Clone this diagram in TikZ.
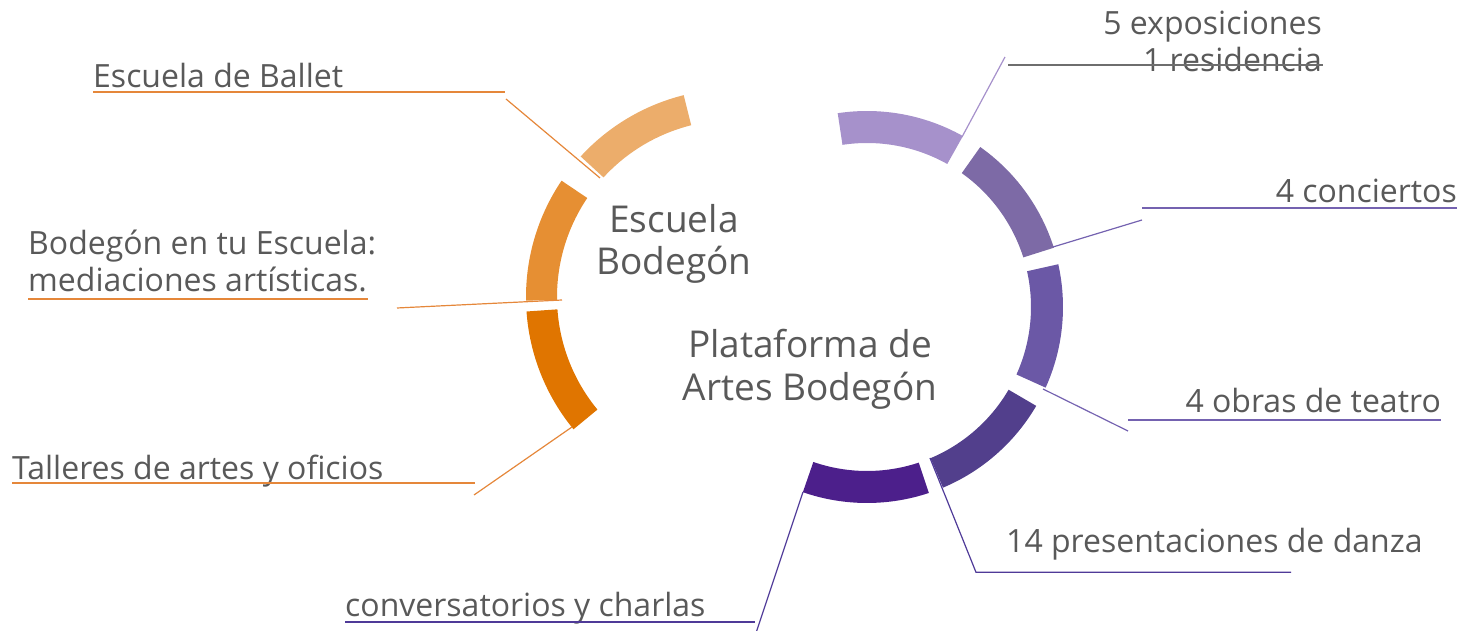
\documentclass[tikz,border=0pt]{standalone}
\usepackage{fontspec}
\setmainfont{Open Sans}
\definecolor{txt}{HTML}{595959}
\definecolor{orA}{HTML}{ECAD6B}
\definecolor{orB}{HTML}{E68F33}
\definecolor{orC}{HTML}{E07500}
\definecolor{orL}{HTML}{E5873A}
\definecolor{puA}{HTML}{A691CB}
\definecolor{puB}{HTML}{7D6AA6}
\definecolor{puC}{HTML}{6B58A6}
\definecolor{puD}{HTML}{523F8C}
\definecolor{puE}{HTML}{4C1F8B}
\definecolor{puL}{HTML}{7462B0}
\definecolor{puM}{HTML}{4F3A98}
\definecolor{grL}{HTML}{6E6E6E}
\newcommand{\annsector}[7]{%
  \fill[#7] (#1,#2) ++(#3:#5) arc[start angle=#3,end angle=#4,radius=#5]
    -- ++(#4:-#5+#6) arc[start angle=#4,end angle=#3,radius=#6] -- cycle;}
\tikzset{
  lbl/.style={font=\fontsize{32}{38}\selectfont, text=txt, inner sep=0pt},
  ctr/.style={font=\fontsize{37}{44}\selectfont, text=txt, inner sep=0pt, anchor=base},
  uline/.style={line width=2pt},
  leader/.style={line width=1.2pt},
}
\begin{document}
\begin{tikzpicture}[x=1pt,y=1pt]
\useasboundingbox (0,0) rectangle (1462,631);
% left ring (Escuela Bodegon), centre (734,334)
\annsector{734}{334}{104}{137.5}{208}{177}{orA}
\annsector{734}{334}{146}{181}{208}{177}{orB}
\annsector{734}{334}{184}{219.5}{208}{177}{orC}
% right ring (Plataforma), centre (867,324)
\annsector{867}{324}{60.7}{98.6}{196}{164}{puA}
\annsector{867}{324}{17.6}{54.7}{196}{164}{puB}
\annsector{867}{324}{-24.3}{12.6}{196}{164}{puC}
\annsector{867}{324}{-67.2}{-30.3}{196}{164}{puD}
\annsector{867}{324}{-109.1}{-71.6}{196}{164}{puE}

% centre titles
\node[ctr] (t1a) at (674,398) {Escuela};
\node[ctr] (t1b) at (674,356) {Bodegón};
\node[ctr] (t2a) at (810,273) {Plataforma de};
\node[ctr] (t2b) at (810,230) {Artes Bodegón};

% left labels
\node[lbl, anchor=base west] (ballet) at (93,543) {Escuela de Ballet};
\node[lbl, anchor=base west] (med1) at (28,376) {Bodegón en tu Escuela:};
\node[lbl, anchor=base west] (med2) at (28,339.3) {mediaciones artísticas.};
\node[lbl, anchor=base west] (tall) at (12,151) {Talleres de artes y oficios};

% right labels
\node[lbl, anchor=base east] (expo1) at (1322,596) {5 exposiciones};
\node[lbl, anchor=base east] (expo2) at (1322,559) {1 residencia};
\node[lbl, anchor=base east] (conc) at (1457,428) {4 conciertos};
\node[lbl, anchor=base east] (obras) at (1441,218) {4 obras de teatro};
\node[lbl, anchor=base west] (danza) at (1006,78) {14 presentaciones de danza};
\node[lbl, anchor=base west] (conv) at (345,14) {conversatorios y charlas};

% coordinates for leaders
\coordinate (bU1) at (93,539.3); \coordinate (bU2) at (505,539.3);
\coordinate (bD1) at (506,532); \coordinate (bD2) at (600,453);
\coordinate (mU1) at (28,332); \coordinate (mU2) at (368,332);
\coordinate (mD1) at (397,323); \coordinate (mD2) at (562,331);
\coordinate (tU1) at (12,147.7); \coordinate (tU2) at (475,147.7);
\coordinate (tD1) at (474,136); \coordinate (tD2) at (572,204);
\coordinate (eD1) at (1005,574); \coordinate (eD2) at (962,494);
\coordinate (eU1) at (1008,565.5); \coordinate (eU2) at (1323,565.5);
\coordinate (cU1) at (1142,422.7); \coordinate (cU2) at (1457,422.7);
\coordinate (cD1) at (1142,411); \coordinate (cD2) at (1053,384);
\coordinate (oU1) at (1128,211); \coordinate (oU2) at (1441,211);
\coordinate (oD1) at (1128,200); \coordinate (oD2) at (1043,242);
\coordinate (pD1) at (930,173); \coordinate (pK) at (976,58.7); \coordinate (pU2) at (1291,58.7);
\coordinate (vD1) at (803,139); \coordinate (vD2) at (756,-2);
\coordinate (vU1) at (345,8.7); \coordinate (vU2) at (755,8.7);

% orange leaders
\draw[uline, orL] (bU1) -- (bU2);
\draw[leader, orL] (bD1) -- (bD2);
\draw[uline, orL] (mU1) -- (mU2);
\draw[leader, orL] (mD1) -- (mD2);
\draw[uline, orL] (tU1) -- (tU2);
\draw[leader, orL] (tD1) -- (tD2);

% purple leaders
\draw[leader, puA] (eD1) -- (eD2);
\draw[uline, grL] (eU1) -- (eU2);
\draw[uline, puL] (cU1) -- (cU2);
\draw[leader, puL] (cD1) -- (cD2);
\draw[uline, puL] (oU1) -- (oU2);
\draw[leader, puL] (oD1) -- (oD2);
\draw[leader, puM] (pD1) -- (pK) -- (pU2);
\draw[uline, puM] (vU1) -- (vU2);
\draw[leader, puM] (vD1) -- (vD2);
\end{tikzpicture}
\end{document}
